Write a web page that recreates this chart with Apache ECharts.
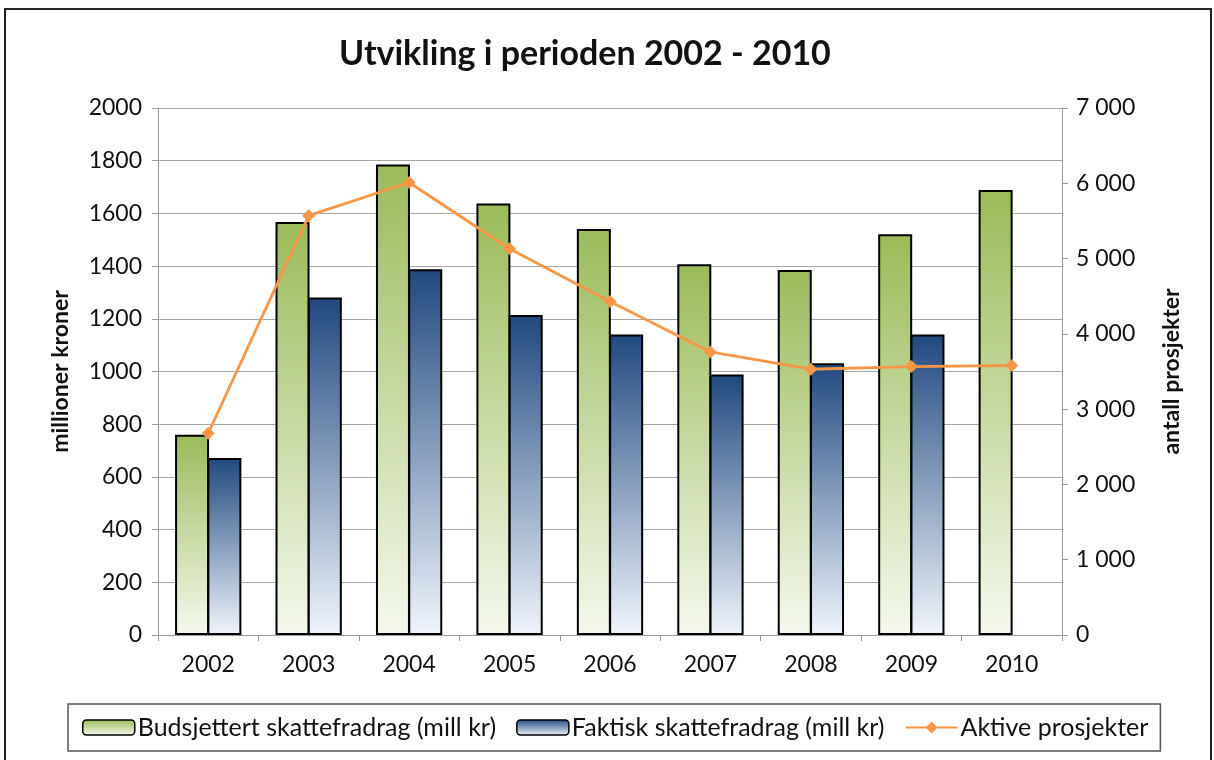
<!DOCTYPE html>
<html>
<head>
<meta charset="utf-8">
<script src="https://cdn.jsdelivr.net/npm/echarts@6/dist/echarts.min.js"></script>
<style>
  html, body { margin: 0; padding: 0; background: #fff; }
  #chart { width: 1214px; height: 760px; }
</style>
</head>
<body>
<div id="chart"></div>
<script>
const years = ['2002', '2003', '2004', '2005', '2006', '2007', '2008', '2009', '2010']
const budsjettert = [760, 1567, 1786, 1638, 1541, 1407, 1385, 1521, 1689]
const faktisk = [672, 1281, 1388, 1214, 1140, 989, 1031, 1140, null]
const aktive = [2680, 5570, 6010, 5130, 4430, 3760, 3530, 3565, 3580]

const font = 'Lato'
const chart = echarts.init(document.getElementById('chart'))

const greenFill = new echarts.graphic.LinearGradient(0, 0, 0, 1, [
  { offset: 0, color: '#9BBB59' },
  { offset: 1, color: '#F5F9EE' }
])
const blueFill = new echarts.graphic.LinearGradient(0, 0, 0, 1, [
  { offset: 0, color: '#21497F' },
  { offset: 1, color: '#F0F5FC' }
])

// space as thousand separator, as in the right axis
const spaced = v => String(v).replace(/\B(?=(\d{3})+(?!\d))/g, ' ')

chart.setOption({
  backgroundColor: '#fff',
  animation: false,
  graphic: [
    {
      type: 'rect',
      shape: { x: 5, y: 9, width: 1206, height: 760 },
      style: { fill: 'none', stroke: '#222', lineWidth: 2 },
      silent: true
    }
  ],
  title: {
    text: 'Utvikling i perioden 2002 - 2010',
    left: 334,
    top: 32,
    textStyle: { fontFamily: font, fontSize: 34, fontWeight: 'bold', color: '#111' }
  },
  grid: { left: 158, right: 152, top: 108, bottom: 125 },
  legend: {
    bottom: 9,
    left: 68,
    padding: [11, 12, 11, 14],
    borderColor: '#555',
    borderWidth: 1.5,
    itemGap: 20,
    itemWidth: 52,
    itemHeight: 15,
    textStyle: { fontFamily: font, fontSize: 25, color: '#111', padding: [0, 0, 0, -2] },
    data: [
      { name: 'Budsjettert skattefradrag (mill kr)', itemStyle: { borderColor: '#000', borderWidth: 1.5 } },
      { name: 'Faktisk skattefradrag (mill kr)', itemStyle: { borderColor: '#000', borderWidth: 1.5 } },
      { name: 'Aktive prosjekter' }
    ]
  },
  xAxis: {
    type: 'category',
    data: years,
    axisLine: { lineStyle: { color: '#999', width: 1 } },
    axisTick: { show: true, length: 6, lineStyle: { color: '#999' } },
    axisLabel: { fontFamily: font, fontSize: 23, color: '#111', margin: 18 }
  },
  yAxis: [
    {
      type: 'value',
      min: 0,
      max: 2000,
      interval: 200,
      name: 'millioner kroner',
      nameLocation: 'middle',
      nameRotate: 90,
      nameGap: 86,
      nameTextStyle: { fontFamily: font, fontSize: 23, fontWeight: 'bold', color: '#111' },
      axisLine: { show: true, lineStyle: { color: '#999' } },
      axisTick: { show: true, length: 6, lineStyle: { color: '#999' } },
      axisLabel: { fontFamily: font, fontSize: 23, color: '#111', margin: 16, formatter: v => String(v) },
      splitLine: { lineStyle: { color: '#A6A6A6', width: 1.2 } }
    },
    {
      type: 'value',
      min: 0,
      max: 7000,
      interval: 1000,
      name: 'antall prosjekter',
      nameLocation: 'middle',
      nameRotate: 90,
      nameGap: 98,
      nameTextStyle: { fontFamily: font, fontSize: 23, fontWeight: 'bold', color: '#111' },
      axisLine: { show: true, lineStyle: { color: '#999' } },
      axisTick: { show: true, length: 6, lineStyle: { color: '#999' } },
      axisLabel: { fontFamily: font, fontSize: 23, color: '#111', margin: 14, formatter: spaced },
      splitLine: { show: false }
    }
  ],
  series: [
    {
      name: 'Budsjettert skattefradrag (mill kr)',
      type: 'bar',
      data: budsjettert,
      barWidth: 34,
      barGap: '-5%',
      itemStyle: { color: greenFill, borderColor: '#000', borderWidth: 2 }
    },
    {
      name: 'Faktisk skattefradrag (mill kr)',
      type: 'bar',
      data: faktisk,
      barWidth: 34,
      barGap: '-5%',
      itemStyle: { color: blueFill, borderColor: '#000', borderWidth: 2 }
    },
    {
      name: 'Aktive prosjekter',
      type: 'line',
      yAxisIndex: 1,
      data: aktive,
      symbol: 'diamond',
      symbolSize: 13,
      lineStyle: { color: '#F79646', width: 2.8 },
      itemStyle: { color: '#F79646' }
    }
  ]
})
</script>
</body>
</html>
